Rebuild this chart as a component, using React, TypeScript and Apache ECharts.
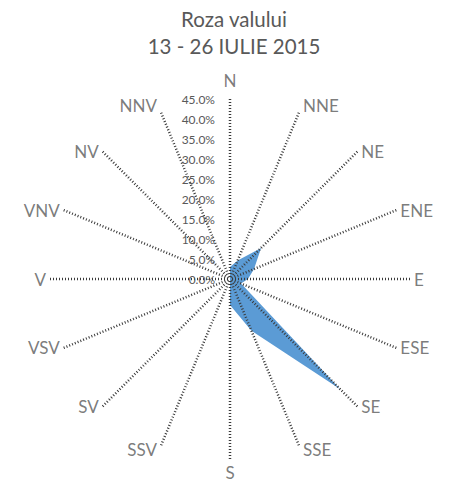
import React, { useEffect, useRef } from "react";
import * as echarts from "echarts";

const directions = ["N", "NNE", "NE", "ENE", "E", "ESE", "SE", "SSE", "S", "SSV", "SV", "VSV", "V", "VNV", "NV", "NNV"];
const frequencies = [3, 5, 11, 6.5, 4.5, 3, 39, 14, 6.5, 0, 0, 0, 0, 0, 0, 0];
const titleLines = ["Roza valului", "13 - 26 IULIE 2015"];
const radiusMax = 45;
const radiusStep = 5;

const FONT = "Lato, 'Noto Sans', sans-serif";
const GRAY = "#595959";

export default function App() {
  const ref = useRef<HTMLDivElement>(null);
  useEffect(() => {
    if (!ref.current) return;
    const chart = echarts.init(ref.current, null, { renderer: "svg" });
    const n = directions.length;
    const step = 360 / n;
    const half = n / 2;
    const data = frequencies.map((v, i) => [v, i * step]);
    data.push([frequencies[0], 360]);
    const labelPoints = directions.map((d, i) => {
      let position = "right";
      let distance = 4;
      let offset = [0, 0];
      if (i === 0) {
        position = "top";
        distance = 10;
      } else if (i === half) {
        position = "bottom";
        distance = 5;
      } else if (i > half) {
        position = "left";
      }
      if (i === 1 || i === n - 1) offset = [0, -7];
      if (i === half - 1 || i === half + 1) offset = [0, 4];
      return { name: d, value: [radiusMax, i * step], label: { position, distance, offset } };
    });
    chart.setOption({
      animation: false,
      backgroundColor: "#ffffff",
      title: {
        text: titleLines.join("\n"),
        left: 229,
        textAlign: "center",
        top: 0,
        textStyle: { fontFamily: FONT, fontSize: 20.5, fontWeight: "normal", color: GRAY, lineHeight: 27 },
      },
      polar: { center: [230, 279], radius: 180 },
      angleAxis: {
        type: "value",
        min: 0,
        max: 360,
        interval: step,
        startAngle: 90,
        clockwise: true,
        z: 5,
        axisLine: { show: false },
        axisTick: { show: false },
        axisLabel: { show: false },
        splitLine: { show: true, lineStyle: { color: "#3a3a3a", width: 2.5, type: [1, 2] } },
      },
      radiusAxis: {
        type: "value",
        min: 0,
        max: radiusMax,
        interval: radiusStep,
        z: 6,
        axisLine: { show: false },
        axisTick: { show: false },
        splitLine: { show: false },
        axisLabel: {
          margin: 15,
          fontFamily: FONT,
          fontSize: 12,
          color: GRAY,
          formatter: (v: number) => v.toFixed(1) + "%",
        },
      },
      series: [
        {
          type: "line",
          coordinateSystem: "polar",
          data,
          symbol: "none",
          lineStyle: { width: 0, color: "#5B9BD5" },
          areaStyle: { color: "#5B9BD5", opacity: 1 },
          z: 2,
        },
        {
          type: "scatter",
          coordinateSystem: "polar",
          data: labelPoints,
          symbolSize: 0.1,
          itemStyle: { color: "rgba(0,0,0,0)" },
          z: 7,
          label: {
            show: true,
            formatter: "{b}",
            fontFamily: FONT,
            fontSize: 17,
            color: GRAY,
          },
        },
      ],
    });
    return () => chart.dispose();
  }, []);
  return <div ref={ref} style={{ position: "fixed", left: 0, top: 0, width: 458, height: 492 }} />;
}
